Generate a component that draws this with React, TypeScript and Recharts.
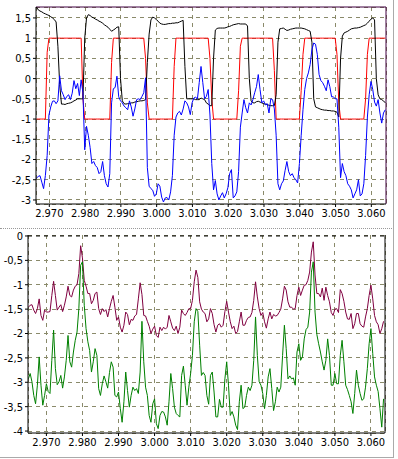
import { LineChart, Line, XAxis, YAxis, CartesianGrid, ReferenceLine } from "recharts";

// sample times (s), 0.5 ms spacing
const topStart = 2.9664;
const botStart = 2.965;
const step = 0.0005;

const xTicks = [2.97, 2.98, 2.99, 3.0, 3.01, 3.02, 3.03, 3.04, 3.05, 3.06];
const topYTicks = [-3, -2.5, -2, -1.5, -1, -0.5, 0, 0.5, 1, 1.5];
const botYTicks = [-4, -3.5, -3, -2.5, -2, -1.5, -1, -0.5, 0];

const topRed = [
  -1, -1, -1, -1, -1, -1, 0.65, 1, 1, 1, 1, 1, 1, 1, 1, 1, 1, 1, 1, 1, 1, 1, 1, 1, 1, 1,
  -0.5, -1, -1, -1, -1, -1, -1, -1, -1, -1, -1, -1, -1, -1, -1, -1,
  0.4, 1, 1, 1, 1, 1, 1, 1, 1, 1, 1, 1, 1, 1, 1, 1, 1, 1, 1,
  0.5, -0.6, -1, -1, -1, -1, -1, -1, -1, -1, -1, -1, -1, -1, -1, -1,
  0.3, 1, 1, 1, 1, 1, 1, 1, 1, 1, 1, 1, 1, 1, 1, 1, 1, 1, 1, 1,
  0.5, -0.5, -1, -1, -1, -1, -1, -1, -1, -1, -1, -1, -1, -1, -1, -1,
  -0.3, 0.8, 1, 1, 1, 1, 1, 1, 1, 1, 1, 1, 1, 1, 1, 1, 1, 1, 1, 1,
  0.2, -1, -1, -1, -1, -1, -1, -1, -1, -1, -1, -1, -1, -1, -1,
  -0.3, 0.6, 1, 1, 1, 1, 1, 1, 1, 1, 1, 1, 1, 1, 1, 1, 1, 1, 1, 1,
  0.6, -0.6, -1, -1, -1, -1, -1, -1, -1, -1, -1, -1, -1, -1, -1, -1,
  -0.5, 0.6, 1, 1, 1, 1, 1, 1, 1, 1, 1, 1,
];

const topBlack = [
  1.77, 1.7, 1.67, 1.65, 1.62, 1.6, 1.58, 1.56, 1.53, 1.5, 1.46, 1.4, 0.8, -0.15, -0.63, -0.63,
  -0.64, -0.62, -0.61, -0.6, -0.58, -0.55, -0.53, -0.5, -0.5, -0.5, -0.5, 1.0, 1.5, 1.58,
  1.56, 1.52, 1.5, 1.47, 1.45, 1.42, 1.4, 1.37, 1.33, 1.3, 1.27, 1.22, 1.17, 1.2, 1.23,
  1.27, 1.28, 0.0, -0.55, -0.62, -0.63, -0.62, -0.62, -0.6, -0.6, -0.58, -0.57, -0.56,
  -0.55, -0.55, -0.54, -0.52, 0.4, 1.1, 1.45, 1.52, 1.5, 1.46, 1.42, 1.37, 1.35, 1.34,
  1.34, 1.35, 1.36, 1.36, 1.37, 1.37, 1.38, 1.38, 1.4, 1.42, 1.44, 0.3, -0.5, -0.5, -0.5,
  -0.5, -0.5, -0.52, -0.52, -0.52, -0.48, -0.5, -0.52, -0.6, -0.63, -0.67, -0.67, 0.5,
  1.2, 1.24, 1.25, 1.25, 1.25, 1.25, 1.26, 1.28, 1.29, 1.31, 1.33, 1.34, 1.35, 1.36, 1.35,
  1.35, 1.35, 1.35, 1.3, 0.0, -0.55, -0.6, -0.6, -0.57, -0.56, -0.58, -0.6, -0.62, -0.63,
  -0.64, -0.66, -0.67, -0.67, -0.67, -0.4, 0.9, 1.23, 1.24, 1.25, 1.22, 1.19, 1.2, 1.22,
  1.23, 1.24, 1.25, 1.25, 1.25, 1.25, 1.24, 1.23, 1.21, 1.19, 1.17, 0.9, -0.5, -0.7,
  -0.72, -0.74, -0.76, -0.77, -0.78, -0.78, -0.79, -0.79, -0.8, -0.8, -0.81, -0.83, -0.95,
  0.5, 1.05, 1.13, 1.15, 1.17, 1.2, 1.23, 1.24, 1.25, 1.25, 1.26, 1.27, 1.29, 1.31, 1.33,
  1.37, 1.42, 1.47, 1.5, 1.45, 0.0, -0.4, -0.5, -0.52, -0.55, -0.6,
];

const topBlue = [
  -2.46, -2.42, -2.4, -2.56, -2.72, -2.4, -1.9, -0.9, -0.7, -0.56, -0.55, -0.62, -0.55, 0.07,
  -0.3, -0.4, -0.52, -0.44, -0.4, -0.52, -0.36, -0.05, -0.25, -0.12, -0.42, -0.03, -0.35,
  -1.76, -1.18, -1.4, -1.7, -2.1, -2.05, -2.15, -2.2, -2.35, -2.3, -2.05, -2.4, -2.6, -2.68,
  -2.35, -0.6, -0.25, -0.22, 0.06, -0.45, -0.55, -0.6, -0.68, -0.72, -0.77, -0.55, -0.7,
  -0.93, -0.75, -0.52, -0.5, -0.52, -0.44, -0.35, 0.02, -2.2, -2.66, -2.72, -2.76, -2.91,
  -2.85, -2.6, -2.66, -2.93, -3.05, -2.95, -2.94, -3.0, -2.8, -2.4, -1.4, -0.95, -0.85,
  -0.81, -0.9, -0.75, -0.55, -0.6, -0.7, -0.89, -0.6, -0.48, -0.46, -0.5, -0.1, 0.3, -0.1,
  -0.5, -0.44, -0.27, -0.9, -2.1, -2.75, -2.52, -2.85, -3.0, -2.9, -2.82, -2.95, -2.85,
  -2.7, -2.35, -2.25, -2.95, -2.9, -2.8, -2.3, -1.2, -0.85, -0.52, -0.72, -0.85, -0.6,
  -0.65, -0.52, -0.35, -0.2, 0.1, -0.27, -0.6, -0.55, -0.65, -0.62, -0.85, -0.5, -0.52,
  -0.75, -1.4, -2.6, -2.75, -2.6, -2.53, -2.27, -2.05, -2.3, -2.4, -2.35, -2.45, -2.5,
  -2.58, -2.1, -1.4, -0.77, -0.27, 0.0, 0.14, 0.35, 0.72, 0.88, 0.85, 0.6, 0.1, -0.05, -0.1,
  -0.19, -0.3, -0.03, -0.2, -0.45, -0.45, -0.5, -0.5, -1.2, -2.45, -2.1, -2.3, -2.4, -2.6,
  -2.66, -2.75, -2.95, -2.85, -2.75, -2.5, -2.9, -2.85, -2.6, -1.9, -0.95, -0.4, -0.07,
  -0.27, -0.58, -0.68, -0.52, -0.85, -1.1, -0.85, -0.77,
];

const botPurple = [
  -1.46, -1.42, -1.41, -1.52, -1.59, -1.49, -1.29, -1.63, -1.73, -1.52, -1.56, -1.56, -1.55,
  -1.22, -0.93, -1.22, -1.52, -1.46, -1.41, -1.55, -1.42, -1.25, -1.03, -1.22, -1.25, -1.11,
  -1.03, -1.0, -0.77, -0.2, -0.45, -0.91, -1.03, -1.18, -1.18, -1.39, -1.32, -1.18, -1.15,
  -1.49, -1.61, -1.49, -1.55, -1.51, -1.66, -1.49, -1.34, -1.22, -1.46, -1.73, -1.66,
  -1.87, -1.97, -1.83, -1.56, -1.61, -1.82, -1.71, -1.73, -1.64, -1.61, -1.29, -0.96, -1.2,
  -1.63, -1.64, -1.75, -1.85, -2.0, -1.91, -1.85, -2.04, -2.08, -1.87, -1.94, -1.87, -1.91,
  -1.87, -1.63, -1.76, -1.89, -1.94, -1.85, -2.0, -1.87, -1.52, -1.59, -1.63, -1.57, -1.49,
  -1.49, -1.32, -0.94, -0.7, -0.85, -1.35, -1.5, -1.56, -1.59, -1.76, -1.7, -1.49, -1.59,
  -1.82, -1.97, -1.83, -1.8, -1.87, -1.83, -1.55, -1.34, -1.56, -1.76, -1.9, -1.85, -2.0,
  -1.96, -1.76, -1.56, -1.83, -1.83, -1.73, -1.67, -1.66, -1.57, -1.32, -0.94, -1.25, -1.49,
  -1.63, -1.57, -1.76, -1.89, -1.7, -1.56, -1.7, -1.61, -1.64, -1.63, -1.57, -1.5, -1.29,
  -1.03, -1.11, -1.35, -1.46, -1.46, -1.5, -1.49, -1.22, -1.05, -1.22, -1.11, -1.01, -1.0,
  -0.91, -0.74, -0.33, -0.12, -0.8, -1.18, -1.18, -1.25, -1.07, -1.32, -1.05, -1.22, -1.35,
  -1.57, -1.63, -1.5, -1.49, -1.57, -1.1, -1.18, -1.34, -1.56, -1.7, -1.71, -1.59, -1.9,
  -1.8, -1.59, -1.59, -1.8, -1.85, -1.87, -1.66, -1.49, -1.22, -1.01, -1.29, -1.63, -1.76,
  -1.82, -2.0, -1.9, -1.75,
];

const botGreen = [
  -2.93, -2.82, -2.99, -3.27, -3.44, -3.06, -2.48, -3.06, -3.47, -3.27, -3.03, -3.19, -3.23,
  -2.55, -1.93, -2.72, -3.05, -2.99, -2.86, -3.12, -2.89, -2.55, -2.04, -2.58, -2.69, -2.38,
  -2.14, -1.97, -1.49, -0.6, -0.53, -1.42, -1.9, -2.17, -2.35, -2.79, -2.58, -2.31, -2.45,
  -3.13, -3.27, -3.03, -2.87, -2.99, -3.12, -2.8, -2.58, -2.69, -3.27, -3.3, -3.2, -3.54,
  -3.82, -3.4, -2.79, -3.17, -3.51, -3.27, -3.1, -3.17, -3.13, -3.23, -2.79, -1.75, -2.58,
  -3.1, -3.27, -3.68, -3.82, -3.44, -3.34, -3.85, -3.95, -3.68, -3.6, -3.61, -3.71, -3.88,
  -3.4, -2.82, -3.13, -3.51, -3.64, -3.68, -3.71, -2.86, -2.67, -3.06, -3.47, -3.1, -2.82,
  -2.45, -1.76, -1.49, -1.55, -2.24, -2.86, -2.8, -2.86, -3.27, -3.45, -2.86, -2.79, -3.2,
  -3.71, -3.71, -3.35, -3.51, -3.51, -2.93, -2.58, -3.06, -3.68, -3.6, -3.71, -3.88, -3.97,
  -3.4, -3.06, -3.54, -3.51, -3.27, -3.1, -3.17, -3.06, -2.55, -1.66, -2.45, -2.99, -3.06,
  -3.23, -3.54, -3.27, -2.89, -2.72, -3.13, -3.58, -3.4, -3.1, -3.2, -3.1, -2.45, -1.83,
  -2.31, -2.93, -2.87, -2.93, -2.91, -3.06, -2.38, -2.21, -2.55, -2.48, -2.11, -1.92, -1.87,
  -1.56, -0.74, -0.53, -1.56, -2.02, -2.21, -2.38, -2.58, -2.75, -2.55, -2.11, -2.45, -3.06,
  -3.06, -2.82, -3.03, -3.03, -2.45, -2.14, -2.58, -3.06, -3.15, -3.27, -3.4, -3.64, -3.23,
  -2.75, -3.06, -3.23, -3.37, -3.34, -3.1, -2.72, -2.21, -1.9, -2.41, -2.89, -3.06, -3.19,
  -3.54, -3.92, -3.34,
];

const topData = topBlue.map((blue, i) => ({
  t: topStart + i * step, red: topRed[i], black: topBlack[i], blue,
}));
const botData = botGreen.map((green, i) => ({
  t: botStart + i * step, purple: botPurple[i], green,
}));

const font = "'Liberation Sans Narrow', 'DejaVu Sans Condensed', 'Liberation Sans', sans-serif";
const tick = { fontSize: 11, fill: "#000", fontFamily: font };
const gridColor = "#8a8a6a";
const fmtX = (v: number) => v.toFixed(3);
const fmtY = (v: number) => String(v).replace(".", ",");

export default function App() {
  return (
    <div style={{ position: "absolute", left: 0, top: 0, width: 398, height: 459, background: "#fff" }}>
      <LineChart
        style={{ position: "absolute", left: 0, top: 0 }}
        width={398} height={229} data={topData} margin={{ top: 7, right: 12, left: 0, bottom: 5 }}
      >
        <CartesianGrid stroke={gridColor} strokeDasharray="4 4" shapeRendering="crispEdges" />
        <XAxis
          type="number" dataKey="t" domain={[2.96628, 3.0641]} ticks={xTicks} interval={0}
          tickFormatter={fmtX} tick={tick} tickSize={3} tickMargin={2} height={20}
          axisLine={{ stroke: "#000" }} tickLine={{ stroke: "#000" }} allowDataOverflow
        />
        <YAxis
          type="number" domain={[-3.1, 1.77]} ticks={topYTicks} interval={0} tickFormatter={fmtY}
          tick={tick} tickSize={3} tickMargin={2} width={36}
          axisLine={{ stroke: "#000" }} tickLine={{ stroke: "#000" }} allowDataOverflow
        />
        <ReferenceLine y={1.77} stroke="#400040" />
        <ReferenceLine x={3.0641} stroke="#400040" />
        <Line dataKey="red" stroke="#ff0000" strokeWidth={1} dot={false} isAnimationActive={false} />
        <Line dataKey="black" stroke="#000000" strokeWidth={1} dot={false} isAnimationActive={false} />
        <Line dataKey="blue" stroke="#0000ff" strokeWidth={1} dot={false} isAnimationActive={false} />
      </LineChart>
      <div style={{ position: "absolute", left: 0, top: 228, width: 394, borderTop: "1px dotted #999" }} />
      <div style={{ position: "absolute", left: 393, top: 0, height: 458, borderLeft: "1px solid #aaa" }} />
      <div style={{ position: "absolute", left: 0, top: 457, width: 394, borderTop: "1px solid #aaa" }} />
      <LineChart
        style={{ position: "absolute", left: 0, top: 214 }}
        width={398} height={245} data={botData} margin={{ top: 21, right: 13, left: 0, bottom: 4 }}
      >
        <CartesianGrid stroke={gridColor} strokeDasharray="4 4" shapeRendering="crispEdges" />
        <XAxis
          type="number" dataKey="t" domain={[2.9649, 3.0639]} ticks={xTicks} interval={0}
          tickFormatter={fmtX} tick={tick} tickSize={3} tickMargin={2} height={22}
          axisLine={{ stroke: "#000" }} tickLine={{ stroke: "#000" }} allowDataOverflow
        />
        <YAxis
          type="number" domain={[-4.04, 0.02]} ticks={botYTicks} interval={0} tickFormatter={fmtY}
          tick={tick} tickSize={3} tickMargin={2} width={28}
          axisLine={{ stroke: "#000" }} tickLine={{ stroke: "#000" }} allowDataOverflow
        />
        <ReferenceLine y={0} stroke="#000" strokeDasharray="4 4" />
        <ReferenceLine x={3.0639} stroke="#000" />
        <Line dataKey="purple" stroke="#800040" strokeWidth={1} dot={false} isAnimationActive={false} />
        <Line dataKey="green" stroke="#008000" strokeWidth={1} dot={false} isAnimationActive={false} />
      </LineChart>
    </div>
  );
}
